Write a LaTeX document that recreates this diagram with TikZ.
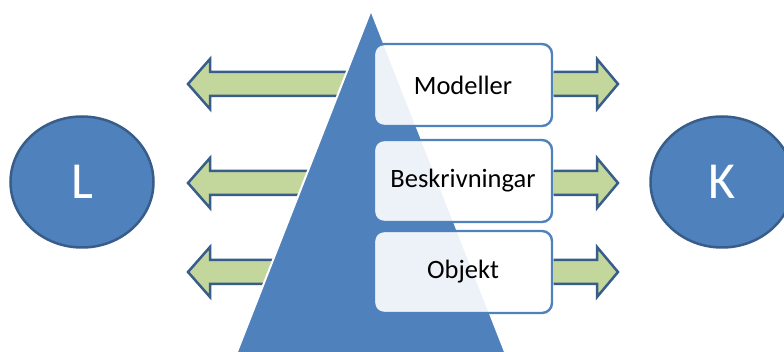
\documentclass[tikz,border=0pt]{standalone}
\usepackage{fontspec}
\setmainfont{Carlito}
\usetikzlibrary{shapes.geometric}
\definecolor{accent}{HTML}{4F81BD}
\definecolor{arrowline}{HTML}{385D8A}
\definecolor{arrowfill}{HTML}{C3D69B}
\begin{document}
\begin{tikzpicture}[x=1pt,y=-1pt,
  arrowbody/.style={draw=arrowline, fill=arrowfill, line width=2.5pt, line join=miter},
  listbox/.style={draw=accent, line width=2.4pt, fill=white, fill opacity=0.9, text opacity=1,
    rounded corners=10pt, minimum width=178pt, minimum height=82pt, inner sep=0pt,
    font=\fontsize{26.5}{30}\selectfont},
  circ/.style={ellipse, draw=arrowline, fill=accent, line width=2.5pt, inner sep=0pt,
    minimum width=143pt, minimum height=131pt, text=white,
    font=\fontsize{52}{56}\selectfont}]
\useasboundingbox (0,0) rectangle (784,352);
% left arrows (under the pyramid)
\foreach \c in {84,183,272}{
  \draw[arrowbody] (188,\c) -- (210,{\c-25}) -- (210,{\c-12}) -- (360,{\c-12})
    -- (360,{\c+12}) -- (210,{\c+12}) -- (210,{\c+25}) -- cycle;
}
% pyramid
\path[fill=accent, draw=white, line width=2pt] (371,10) -- (509,362) -- (233,362) -- cycle;
% list boxes
\node[listbox] (m) at (463,85) {Modeller};
\node[listbox] (b) at (463,181) {Beskrivningar};
\node[listbox] (o) at (463,272) {Objekt};
% right arrows, starting at the boxes
\foreach \n/\c in {m/84,b/183,o/272}{
  \fill[arrowfill] (553,{\c-12}) -- (597,{\c-12}) -- (597,{\c-25}) -- (618,\c)
    -- (597,{\c+25}) -- (597,{\c+12}) -- (553,{\c+12}) -- cycle;
  \draw[arrowline, line width=2.5pt, line join=miter] (553.5,{\c-12}) -- (597,{\c-12}) -- (597,{\c-25}) -- (618,\c)
    -- (597,{\c+25}) -- (597,{\c+12}) -- (553.5,{\c+12});
}
% circles
\node[circ] (L) at (82,182) {L};
\node[circ] (K) at (722,182) {K};
\end{tikzpicture}
\end{document}
